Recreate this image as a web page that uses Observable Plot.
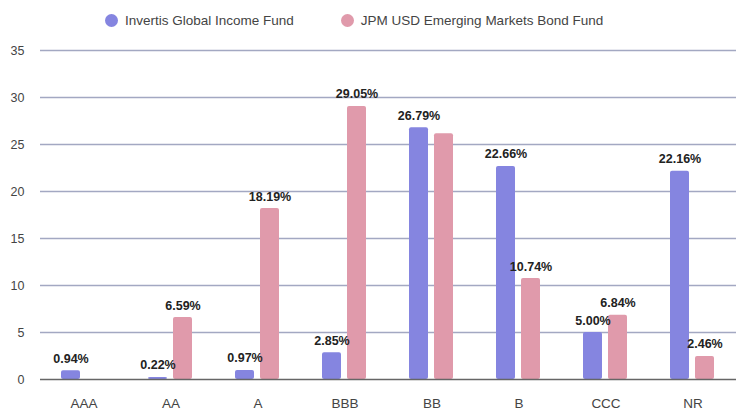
<!DOCTYPE html>
<html>
<head>
<meta charset="utf-8">
<script src="https://cdn.jsdelivr.net/npm/d3@7"></script>
<script src="https://cdn.jsdelivr.net/npm/@observablehq/plot@0.6"></script>
<style>
  html, body { margin: 0; padding: 0; background: #fff; overflow: hidden; }
  body { width: 739px; height: 410px; font-family: "Liberation Sans", Arial, sans-serif; }
  #legend { height: 40px; display: flex; align-items: center; padding-left: 105px; box-sizing: border-box; font-size: 13.5px; color: #444; }
  .item { display: flex; align-items: center; margin-right: 47px; }
  .dot { width: 13px; height: 13px; border-radius: 50%; margin-right: 7px; }
  #chart svg g[aria-label^="y-axis"] text { font-size: 12.5px; }
  #chart svg g[aria-label^="fx-axis"] text { font-size: 13.5px; }
</style>
</head>
<body>
<div id="legend"></div>
<div id="chart"></div>
<script>
const categories = ["AAA", "AA", "A", "BBB", "BB", "B", "CCC", "NR"];
const seriesNames = ["Invertis Global Income Fund", "JPM USD Emerging Markets Bond Fund"];
const seriesColors = ["#8585e0", "#e09aab"];
const invertis = [0.94, 0.22, 0.97, 2.85, 26.79, 22.66, 5.00, 22.16];
const jpm = [0, 6.59, 18.19, 29.05, 26.15, 10.74, 6.84, 2.46];
const invertisLabels = ["0.94%", "0.22%", "0.97%", "2.85%", "26.79%", "22.66%", "5.00%", "22.16%"];
const jpmLabels = ["", "6.59%", "18.19%", "29.05%", "", "10.74%", "6.84%", "2.46%"];
const yTicks = [0, 5, 10, 15, 20, 25, 30, 35];

const data = [];
categories.forEach((c, i) => {
  data.push({category: c, series: seriesNames[0], value: invertis[i], label: invertisLabels[i]});
  data.push({category: c, series: seriesNames[1], value: jpm[i], label: jpmLabels[i]});
});

const legend = document.getElementById("legend");
seriesNames.forEach((n, i) => {
  const it = document.createElement("div");
  it.className = "item";
  const d = document.createElement("span");
  d.className = "dot";
  d.style.background = seriesColors[i];
  const t = document.createElement("span");
  t.textContent = n;
  it.appendChild(d); it.appendChild(t);
  legend.appendChild(it);
});

const chart = Plot.plot({
  width: 739,
  height: 370,
  marginTop: 10,
  marginBottom: 31,
  marginLeft: 37,
  marginRight: 0,
  style: {fontFamily: "Liberation Sans, Arial, sans-serif", fontSize: "13px", color: "#444", background: "#fff"},
  facet: {data: data, x: "category"},
  fx: {domain: categories, padding: 0, label: null, axis: "bottom", tickSize: 0, tickPadding: 19},
  x: {domain: seriesNames, paddingInner: 0.23, paddingOuter: 0.8, axis: null},
  y: {domain: [0, 35], ticks: yTicks, tickSize: 0, tickPadding: 16, label: null},
  color: {domain: seriesNames, range: seriesColors},
  marks: [
    Plot.ruleY(yTicks.filter(d => d > 0), {stroke: "#a3a8c2", strokeWidth: 1.5}),
    Plot.barY(data, {x: "series", y: "value", fill: "series", rx: 2}),
    Plot.ruleY([0], {stroke: "#666", strokeWidth: 1.5}),
    Plot.text(data, {x: "series", y: "value", text: "label", dy: -12, fill: "#222", fontWeight: "bold", fontSize: 12.5})
  ]
});
document.getElementById("chart").appendChild(chart);
</script>
</body>
</html>
